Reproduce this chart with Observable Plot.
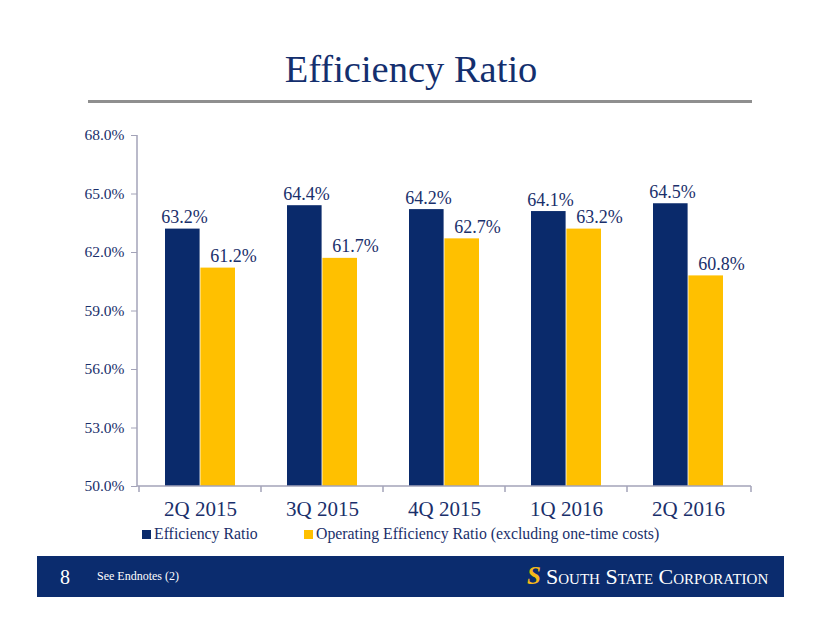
<!DOCTYPE html>
<html>
<head>
<meta charset="utf-8">
<script src="https://cdn.jsdelivr.net/npm/d3@7"></script>
<script src="https://cdn.jsdelivr.net/npm/@observablehq/plot@0.6"></script>
<style>
  html, body { margin: 0; padding: 0; background: #fff; }
  body { width: 822px; height: 635px; position: relative; overflow: hidden; font-family: "Liberation Serif", "DejaVu Serif", serif; }
  .abs { position: absolute; }
  #title { left: 0; width: 822px; top: 47px; text-align: center; font-size: 38.5px; color: #142f6e; line-height: 44px; }
  #rule { left: 88px; top: 100px; width: 664px; height: 3px; background: #8f8f8f; }
  #chart { left: 0; top: 110px; }
  .leg { top: 524px; font-size: 15.8px; color: #1a2f6b; line-height: 20px; white-space: nowrap; }
  .sw { display: inline-block; width: 9px; height: 9px; margin-right: 3px; vertical-align: 0px; }
  #footer { left: 37px; top: 556px; width: 747px; height: 41px; background: #0b2c6e; }
  #pg { left: 60px; top: 566px; font-size: 20px; color: #fff; line-height: 22px; }
  #notes { left: 97px; top: 569px; font-size: 12px; color: #fff; line-height: 14px; }
  #logoS { left: 527px; top: 563px; font-size: 25px; font-weight: bold; color: #f5b919; line-height: 26px; font-style: italic; }
  #corp { left: 546px; top: 565px; font-size: 22px; color: #fff; line-height: 24px; font-variant: small-caps; white-space: nowrap; }
</style>
</head>
<body>
<div id="title" class="abs">Efficiency Ratio</div>
<div id="rule" class="abs"></div>
<div id="chart" class="abs"></div>
<div class="abs leg" style="left:142px"><span class="sw" style="background:#0a2a6b"></span>Efficiency Ratio</div>
<div class="abs leg" style="left:304px"><span class="sw" style="background:#ffc000"></span>Operating Efficiency Ratio (excluding one-time costs)</div>
<div id="footer" class="abs"></div>
<div id="pg" class="abs">8</div>
<div id="notes" class="abs">See Endnotes (2)</div>
<div id="logoS" class="abs">S</div>
<div id="corp" class="abs">South State Corporation</div>
<script>
const quarters = ["2Q 2015", "3Q 2015", "4Q 2015", "1Q 2016", "2Q 2016"];
const efficiency = [63.2, 64.4, 64.2, 64.1, 64.5];
const operating = [61.2, 61.7, 62.7, 63.2, 60.8];
const yTicks = [50, 53, 56, 59, 62, 65, 68];

const navy = "#0a2a6b";
const gold = "#ffc000";
const textNavy = "#1a2f6b";
const axisGray = "#a3a3b8";

const effData = quarters.map((q, i) => ({q, v: efficiency[i]}));
const opData = quarters.map((q, i) => ({q, v: operating[i]}));

const chart = Plot.plot({
  width: 822,
  height: 420,
  marginTop: 25,
  marginBottom: 44,
  marginLeft: 137,
  marginRight: 71,
  style: {fontFamily: "'Liberation Serif', serif", background: "transparent"},
  x: {domain: quarters, padding: 0, label: null},
  y: {domain: [50, 68], label: null},
  marks: [
    Plot.barY(effData, {x: "q", y1: 50, y2: "v", fill: navy, insetLeft: 26, insetRight: 61.4}),
    Plot.barY(opData, {x: "q", y1: 50, y2: "v", fill: gold, insetLeft: 61.4, insetRight: 26}),
    Plot.text(effData, {x: "q", y: "v", text: d => d.v.toFixed(1) + "%", dx: -16, dy: -6, lineAnchor: "bottom", fill: textNavy, fontSize: 18}),
    Plot.text(opData, {x: "q", y: "v", text: d => d.v.toFixed(1) + "%", dx: 33, dy: -6, lineAnchor: "bottom", fill: textNavy, fontSize: 18}),
    Plot.axisY({ticks: yTicks, tickSize: 6, stroke: axisGray, text: null}),
    Plot.axisY({ticks: yTicks, tickSize: 0, tickPadding: 13, fill: textNavy, fontSize: 15.5, tickFormat: d => d.toFixed(1) + "%"}),
    Plot.axisX({tickSize: 0, tickPadding: 15, fill: textNavy, fontSize: 21})
  ]
});

document.getElementById("chart").appendChild(chart);

// axis lines and band-boundary ticks from the plot's own scales
const xs = chart.scale("x");
const ys = chart.scale("y");
const svg = d3.select(chart);
const g = svg.append("g").attr("stroke", axisGray).attr("stroke-width", 1.5);
const x0 = xs.range[0], x1 = xs.range[1];
const yb = ys.apply(50), yt = ys.apply(68);
g.append("line").attr("x1", x0).attr("x2", x0).attr("y1", yt).attr("y2", yb);
g.append("line").attr("x1", x0).attr("x2", x1).attr("y1", yb).attr("y2", yb);
const bounds = quarters.map(q => xs.apply(q)).concat([x1]);
bounds.forEach(b => g.append("line").attr("x1", b).attr("x2", b).attr("y1", yb).attr("y2", yb + 6));
</script>
</body>
</html>
